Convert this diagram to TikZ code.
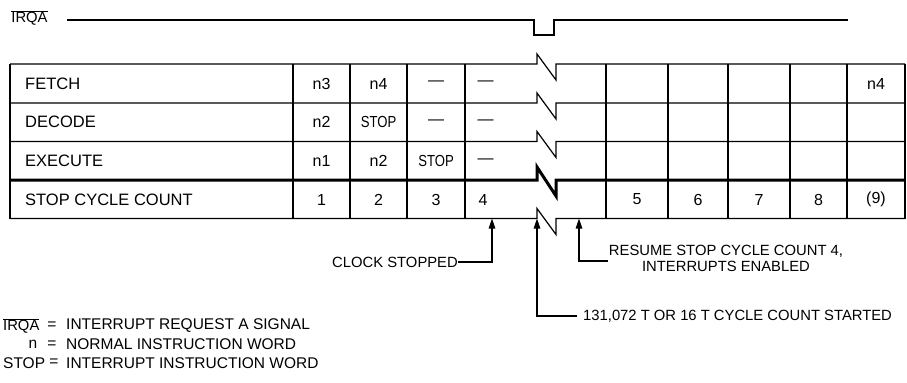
\documentclass[tikz,border=0pt]{standalone}
\usepackage{fontspec}
\setmainfont{Liberation Sans}
\usepackage{graphicx}
\usetikzlibrary{arrows.meta}
\newcommand{\stopw}{\scalebox{0.82}[1]{STOP}}
\begin{document}
\begin{tikzpicture}[x=1bp,y=-1bp,
  grid/.style={line width=1.2bp},
  heavyrule/.style={line width=3bp},
  lbl/.style={anchor=west,inner sep=0pt,font=\fontsize{16.5bp}{19bp}\selectfont},
  cell/.style={inner sep=0pt,font=\fontsize{16bp}{19bp}\selectfont},
  note/.style={inner sep=0pt,font=\fontsize{14.8bp}{17bp}\selectfont},
  key/.style={inner sep=0pt,font=\fontsize{15.5bp}{18bp}\selectfont},
  ptr/.style={line width=1.2bp,-{Triangle[length=10bp,width=6.5bp]}},
  sig/.style={line width=1.2bp}]
\useasboundingbox (0,0) rectangle (907,382);

% IRQA signal
\node[note] (irqa) at (29.5,18) {$\overline{\hbox{IRQA}}$};
\coordinate (s0) at (67,20);
\coordinate (s1) at (848,20);
\draw[sig] (s0) -- (534,20) -- (534,35) -- (554,35) -- (554,20) -- (s1);

% horizontal rules with break
\foreach \y in {64,103,141.5,218.5}
  \draw[grid] (10,\y) -- (537,\y) -- (537,\y-10) -- (556,\y+16) -- (556,\y) -- (905,\y);
\draw[heavyrule] (10,180) -- (537,180) -- (537,167) -- (556,196) -- (556,180) -- (905,180);

% vertical rules
\foreach \x in {10,293,350,407,465,606,668,728,790,847,905}
  \draw[grid] (\x,64) -- (\x,218.5);

% row labels
\node[lbl] (fetch) at (25,83.5) {FETCH};
\node[lbl] (decode) at (25,122) {DECODE};
\node[lbl] (execute) at (25,161) {EXECUTE};
\node[lbl] (scc) at (25,199.5) {STOP CYCLE COUNT};

% FETCH row
\node[cell] (f1) at (321.5,83.5) {n3};
\node[cell] (f2) at (378.5,83.5) {n4};
\node[cell] (f3) at (436,83.5) {---};
\node[cell] (f4) at (485.5,83.5) {---};
\node[cell] (f9) at (876,83.5) {n4};
% DECODE row
\node[cell] (d1) at (321.5,122) {n2};
\node[cell] (d2) at (378.5,122) {\stopw};
\node[cell] (d3) at (436,122) {---};
\node[cell] (d4) at (485.5,122) {---};
% EXECUTE row
\node[cell] (e1) at (321.5,161) {n1};
\node[cell] (e2) at (378.5,161) {n2};
\node[cell] (e3) at (436,161) {\stopw};
\node[cell] (e4) at (485.5,161) {---};
% STOP CYCLE COUNT row
\node[cell] (c1) at (321.5,199.5) {1};
\node[cell] (c2) at (378.5,199.5) {2};
\node[cell] (c3) at (436,199.5) {3};
\node[cell] (c4) at (483,199.5) {4};
\node[cell] (c5) at (637,199.5) {5};
\node[cell] (c6) at (698,199.5) {6};
\node[cell] (c7) at (759,199.5) {7};
\node[cell] (c8) at (818.5,199.5) {8};
\node[cell] (c9) at (876,199.5) {(9)};

% annotations
\coordinate (tclk) at (492,218.5);
\coordinate (tbrk) at (537,218.5);
\coordinate (tres) at (579,218.5);
\node[note,anchor=east] (clk) at (458,262) {CLOCK STOPPED};
\node[note,anchor=west] (cnt) at (577,316) {\hspace{6bp}131,072 T OR 16 T CYCLE COUNT STARTED};
\node[note,align=center] (res) at (726,258.5) {RESUME STOP CYCLE COUNT 4,\\[-0.5bp]INTERRUPTS ENABLED};
\coordinate (resl) at (608,261);
\draw[ptr] (clk.east) -| (tclk);
\draw[ptr] (cnt.west) -| (tbrk);
\draw[ptr] (resl) -| (tres);

% legend
\node[note,anchor=west] (k1) at (3,326) {$\overline{\hbox{IRQA}}$};
\node[key] (e1s) at (52,326) {=};
\node[key,anchor=west] (k1t) at (66,326) {INTERRUPT REQUEST A SIGNAL};
\node[key] (k2) at (33,344.5) {n};
\node[key] (e2s) at (52,344.5) {=};
\node[key,anchor=west] (k2t) at (66,344.5) {NORMAL INSTRUCTION WORD};
\node[key,anchor=west] (k3) at (3,363) {STOP};
\node[key] (e3s) at (54,363) {=};
\node[key,anchor=west] (k3t) at (66,363) {INTERRUPT INSTRUCTION WORD};
\end{tikzpicture}
\end{document}
